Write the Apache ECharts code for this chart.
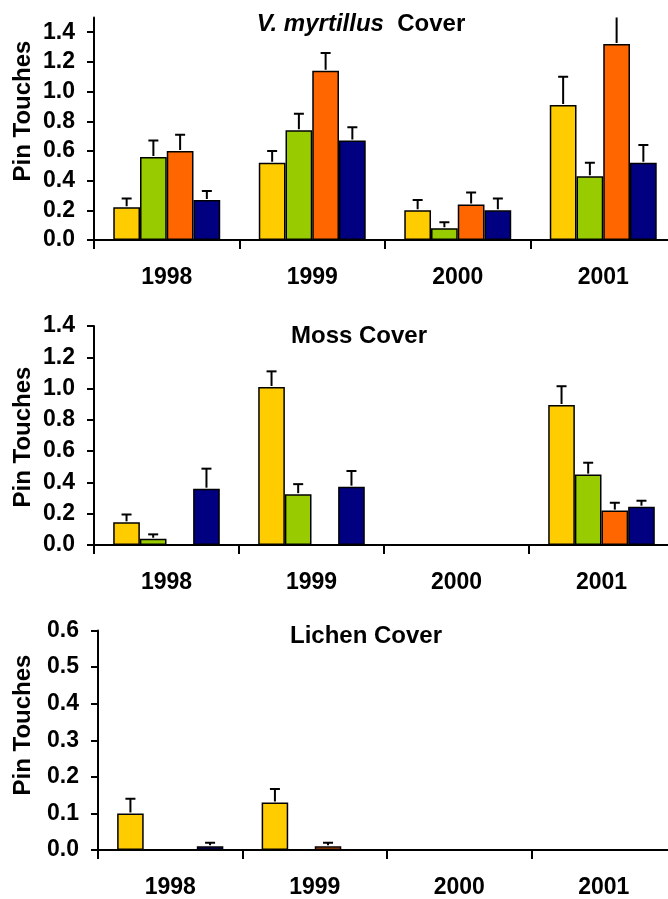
<!DOCTYPE html>
<html>
<head>
<meta charset="utf-8">
<title>Pin Touches</title>
<script src="https://cdn.jsdelivr.net/npm/echarts@6/dist/echarts.min.js"></script>
<style>
html,body{margin:0;padding:0;background:#fff;overflow:hidden;}
/* 绘图区右侧超出窗口，与原图一致 */
#chart{width:690px;height:899px;}
</style>
</head>
<body>
<div id="chart"></div>
<script>
// 年份分类
var years = ['1998', '1999', '2000', '2001'];

// V. myrtillus 数据 (均值 + 上误差)
var vmYellow = [0.22, 0.52, 0.20, 0.91];
var vmYellowErr = [0.06, 0.08, 0.07, 0.19];
var vmGreen = [0.56, 0.74, 0.08, 0.43];
var vmGreenErr = [0.11, 0.11, 0.04, 0.09];
var vmOrange = [0.60, 1.14, 0.24, 1.32];
var vmOrangeErr = [0.11, 0.12, 0.08, 0.24];
var vmBlue = [0.27, 0.67, 0.20, 0.52];
var vmBlueErr = [0.06, 0.09, 0.08, 0.12];

// Moss 数据
var mossYellow = [0.145, 1.01, 0, 0.895];
var mossYellowErr = [0.05, 0.10, 0, 0.12];
var mossGreen = [0.04, 0.325, 0, 0.45];
var mossGreenErr = [0.028, 0.064, 0, 0.076];
var mossOrange = [0, 0, 0, 0.22];
var mossOrangeErr = [0, 0, 0, 0.05];
var mossBlue = [0.36, 0.373, 0, 0.245];
var mossBlueErr = [0.128, 0.10, 0, 0.038];

// Lichen 数据
var lichenYellow = [0.10, 0.13, 0, 0];
var lichenYellowErr = [0.04, 0.037, 0, 0];
var lichenGreen = [0, 0, 0, 0];
var lichenGreenErr = [0, 0, 0, 0];
var lichenOrange = [0, 0.01, 0, 0];
var lichenOrangeErr = [0, 0.01, 0, 0];
var lichenBlue = [0.01, 0, 0, 0];
var lichenBlueErr = [0.01, 0, 0, 0];

// 刻度
var vmTicks = [0, 0.2, 0.4, 0.6, 0.8, 1.0, 1.2, 1.4];
var mossTicks = [0, 0.2, 0.4, 0.6, 0.8, 1.0, 1.2, 1.4];
var lichenTicks = [0, 0.1, 0.2, 0.3, 0.4, 0.5, 0.6];

var colors = ['#FFCC00', '#99CC00', '#FF6600', '#000080'];
var font = "'Liberation Sans', Arial, sans-serif";
var catGap = 0.265;

//误差线绘制
function errRenderer(slot) {
	return function(params, api) {
		var err = api.value(2);
		if (!err) return null;
		var x = api.value(0), y = api.value(1);
		var base = api.coord([x, y]);
		var top = api.coord([x, y + err]);
		var band = api.size([1, 0])[0];
		var bw = band * (1 - catGap) / 4;
		var cx = base[0] + (slot - 1.5) * bw;
		return {
			type: 'group',
			children: [{
				type: 'line',
				shape: {x1: cx, y1: base[1] - 1, x2: cx, y2: top[1]},
				style: {stroke: '#000', lineWidth: 2}
			}, {
				type: 'line',
				shape: {x1: cx - 5, y1: top[1], x2: cx + 5, y2: top[1]},
				style: {stroke: '#000', lineWidth: 2}
			}]
		};
	};
}

function makeSeries(idx, vals, errs) {
	var out = [];
	for (var s = 0; s < 4; s++) {
		out.push({
			type: 'bar',
			xAxisIndex: idx,
			yAxisIndex: idx,
			data: vals[s],
			barGap: '0%',
			barCategoryGap: (catGap * 100) + '%',
			itemStyle: {color: colors[s], borderColor: '#000', borderWidth: 1.5},
			silent: true
		});
	}
	for (var s = 0; s < 4; s++) {
		var d = [];
		for (var i = 0; i < years.length; i++) {
			d.push([i, vals[s][i], errs[s][i]]);
		}
		out.push({
			type: 'custom',
			xAxisIndex: idx,
			yAxisIndex: idx,
			renderItem: errRenderer(s),
			data: d,
			encode: {x: 0, y: 1},
			clip: true,
			z: 5,
			silent: true
		});
	}
	return out;
}

function xAxisOf(idx) {
	return {
		type: 'category',
		gridIndex: idx,
		data: years,
		axisLine: {lineStyle: {color: '#000', width: 2}},
		axisTick: {show: true, length: 9, lineStyle: {color: '#000', width: 2}},
		axisLabel: {color: '#000', fontFamily: font, fontWeight: 'bold', fontSize: 23, margin: 26}
	};
}

function yAxisOf(idx, max, ticks) {
	return {
		type: 'value',
		gridIndex: idx,
		min: 0,
		max: max,
		interval: ticks[1],
		splitLine: {show: false},
		axisLine: {show: true, lineStyle: {color: '#000', width: 2}},
		axisTick: {show: true, length: 7, customValues: ticks, lineStyle: {color: '#000', width: 2}},
		axisLabel: {
			color: '#000', fontFamily: font, fontWeight: 'bold', fontSize: 23, margin: 19,
			customValues: ticks,
			formatter: function(v) { return v.toFixed(1); }
		}
	};
}

function textEl(txt, x, y, rot) {
	return {
		type: 'text',
		x: x, y: y,
		rotation: rot || 0,
		style: {
			text: txt,
			font: 'bold 24px ' + font,
			fill: '#000',
			align: 'center',
			verticalAlign: 'middle'
		}
	};
}

var chart = echarts.init(document.getElementById('chart'), null, {renderer: 'canvas'});

var series = [].concat(
	makeSeries(0, [vmYellow, vmGreen, vmOrange, vmBlue], [vmYellowErr, vmGreenErr, vmOrangeErr, vmBlueErr]),
	makeSeries(1, [mossYellow, mossGreen, mossOrange, mossBlue], [mossYellowErr, mossGreenErr, mossOrangeErr, mossBlueErr]),
	makeSeries(2, [lichenYellow, lichenGreen, lichenOrange, lichenBlue], [lichenYellowErr, lichenGreenErr, lichenOrangeErr, lichenBlueErr])
);

var titleMain = {
	type: 'text',
	x: 361, y: 24,
	style: {
		text: '{i|V. myrtillus}  Cover',
		font: 'bold 24px ' + font,
		fill: '#000',
		align: 'center',
		verticalAlign: 'middle',
		rich: {
			i: {fontStyle: 'italic', fontWeight: 'bold', fontSize: 24, fontFamily: font, fill: '#000'}
		}
	}
};

var option = {
	animation: false,
	backgroundColor: '#fff',
	grid: [
		{left: 94, top: 17.4, width: 582, height: 222.6},
		{left: 94, top: 326, width: 580, height: 219},
		{left: 98, top: 630.5, width: 578, height: 222}
	],
	xAxis: [xAxisOf(0), xAxisOf(1), xAxisOf(2)],
	yAxis: [yAxisOf(0, 1.5, vmTicks), yAxisOf(1, 1.4, mossTicks), yAxisOf(2, 0.6, lichenTicks)],
	series: series,
	graphic: [
		titleMain,
		textEl('Moss Cover', 359, 336),
		textEl('Lichen Cover', 366, 636),
		textEl('Pin Touches', 23, 111, Math.PI / 2),
		textEl('Pin Touches', 23, 437, Math.PI / 2),
		textEl('Pin Touches', 23, 725, Math.PI / 2)
	]
};
chart.setOption(option);
</script>
</body>
</html>
